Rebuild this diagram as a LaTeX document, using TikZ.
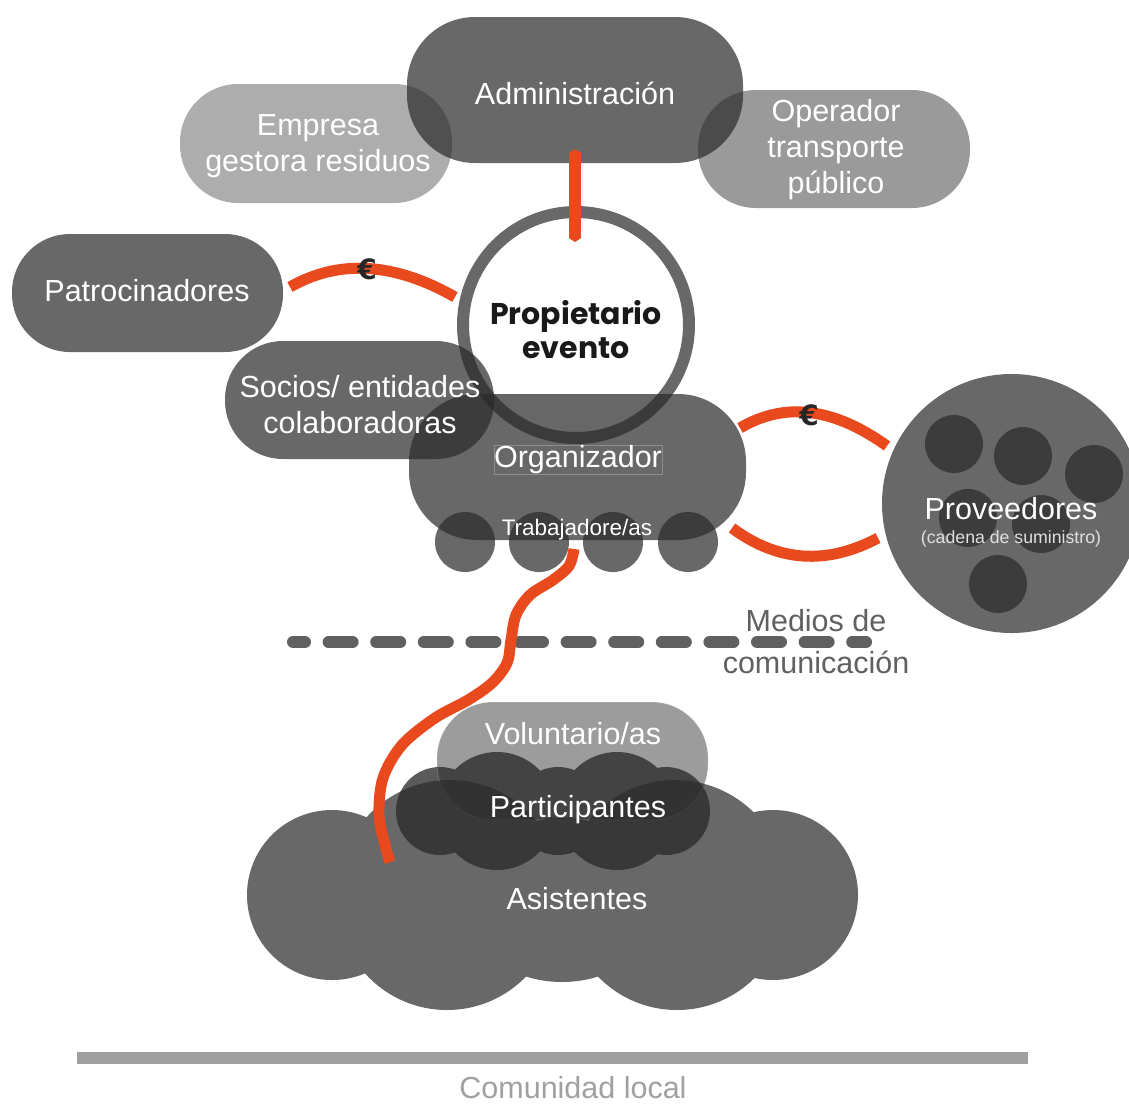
\documentclass[tikz,border=0pt]{standalone}
\usepackage{fontspec}
\setmainfont{Liberation Sans}
\newfontfamily\popfont{Poppins}
\newfontfamily\eurofont{DejaVu Sans}
\usetikzlibrary{arrows.meta}
\definecolor{ink}{RGB}{42,42,42}
\definecolor{ringgray}{RGB}{104,104,104}
\definecolor{redc}{RGB}{232,73,29}
\definecolor{dashgray}{RGB}{96,96,96}
\definecolor{commgray}{RGB}{160,160,160}
\newcommand\mainfs{\fontsize{30.5}{36}\selectfont}
\begin{document}
\begin{tikzpicture}[x=1pt,y=-1pt,
  blob/.style={rectangle, rounded corners=#1, fill=ink, inner sep=0pt},
  dot/.style={circle, fill=ink, inner sep=0pt, minimum size=#1},
  op104/.style={fill opacity=0.709},
  lbl/.style={text=white, font=\mainfs, align=center, inner sep=0pt},
  redline/.style={draw=redc, line width=11pt},
  euro/.style={font=\eurofont\bfseries\fontsize{28}{28}\selectfont, text=black!85, inner sep=0pt},
]
\clip (0,0) rectangle (1129,1104);
% top row
\node[blob=58pt, fill opacity=0.385, minimum width=272pt, minimum height=119pt] (empresa) at (316,143.5) {};
\node[blob=58pt, fill opacity=0.474, minimum width=272pt, minimum height=118pt] (operador) at (834,149) {};
\node[blob=68pt, op104, minimum width=336pt, minimum height=146pt] (admin) at (575,90) {};
% left
\node[blob=58pt, op104, minimum width=271pt, minimum height=118pt] (patro) at (147.5,293) {};
% owner ring
\node[circle, minimum size=226pt, fill=white, draw=ringgray, line width=12pt, inner sep=0pt] (prop) at (576,325) {};
\node[blob=58pt, op104, minimum width=269pt, minimum height=118pt] (socios) at (359.5,400) {};
\node[blob=68pt, op104, minimum width=337pt, minimum height=146pt] (org) at (577.5,467) {};
% workers
\node[dot=60pt, op104] (t1) at (465,542) {};
\node[dot=60pt, op104] (t2) at (539,542) {};
\node[dot=60pt, op104] (t3) at (613,542) {};
\node[dot=60pt, op104] (t4) at (688,542) {};
% suppliers
\node[dot=259pt, op104] (prov) at (1011.5,503.5) {};
\node[dot=58pt, op104] (s1) at (954,444) {};
\node[dot=58pt, op104] (s2) at (1023,456) {};
\node[dot=58pt, op104] (s3) at (1094,474) {};
\node[dot=58pt, op104] (s4) at (968,518) {};
\node[dot=58pt, op104] (s5) at (1041,524) {};
\node[dot=58pt, op104] (s6) at (998,584) {};
% media dashed line
\coordinate (d1) at (293,642);
\coordinate (d2) at (866,642);
\draw[dashgray, line width=12pt, line cap=round, dash pattern=on 24pt off 23.6pt, dash phase=12pt] (d1) -- (d2);
% participants cloud
\fill[ink, fill opacity=0.775] (440,811) circle[radius=44pt] (558,811) circle[radius=44pt] (666,811) circle[radius=44pt] (497,811) circle[radius=59pt] (617,811) circle[radius=59pt];
% volunteers
\node[blob=56pt, fill opacity=0.465, draw=white, draw opacity=0.25, line width=0.6pt, minimum width=271pt, minimum height=118pt] (vol) at (572.5,761) {};
% attendees cloud
\fill[ink, fill opacity=0.709] (332,895) circle[radius=85pt] (773,895) circle[radius=85pt] (450,892) circle[radius=112pt] (675,892) circle[radius=112pt] (447,900) circle[radius=110pt] (677,900) circle[radius=110pt] (562,900) ellipse[x radius=100pt, y radius=82pt];
% red connectors
\coordinate (rvtop) at (575,149);
\coordinate (rvbot) at (575,242);
\draw[redline, line width=12pt, {Triangle[length=4pt,width=12pt]}-{Triangle[length=4pt,width=12pt]}] (rvtop) -- (rvbot);
\coordinate (pa) at (290,287);
\coordinate (pb) at (455,297);
\draw[redline] (pa) .. controls (339,259) and (394,262.3) .. (pb);
\coordinate (o1) at (740,428);
\coordinate (o2) at (887,446);
\draw[redline] (o1) .. controls (784.3,401.7) and (833.3,407.3) .. (o2);
\coordinate (o3) at (732,528);
\coordinate (o4) at (878,538);
\draw[redline] (o3) .. controls (778,562) and (826.7,565.3) .. (o4);
\coordinate (wtop) at (574,549);
\coordinate (wbot) at (390,862);
\draw[redline] plot[smooth, tension=0.55] coordinates {(wtop) (569,566) (553,580) (530,595) (516,615) (511,640) (507,663) (492,683) (468,700) (435,718) (402,745) (383,778) (379,815) (385,845) (wbot)};
\node[euro] (eur1) at (367,269) {€};
\node[euro] (eur2) at (809,415) {€};
% labels
\node[lbl] (admin-t) at (575,93) {Administración};
\node[lbl] (empresa-t) at (318,146) {Empresa\\gestora residuos};
\node[lbl] (operador-t) at (836,150) {Operador\\transporte\\público};
\node[lbl] (patro-t) at (147,291) {Patrocinadores};
\node[font=\popfont\bfseries\fontsize{30}{34}\selectfont, text=black!90, align=center, inner sep=0pt] (prop-t) at (576,330) {Propietario\\evento};
\node[lbl] (socios-t) at (360,405) {Socios/ entidades\\colaboradoras};
\node[lbl, draw=white, draw opacity=0.25, line width=0.6pt] (org-t) at (578,460) {Organizador};
\node[lbl, font=\fontsize{22.5}{26}\selectfont] (trab-t) at (577,530) {Trabajadore/as};
\node[lbl] (prov-t) at (1011,509) {Proveedores};
\node[lbl, font=\fontsize{17.7}{20}\selectfont, text=white!88!black] (cad-t) at (1011,539) {(cadena de suministro)};
\node[lbl, text=dashgray] (medios-t) at (816,621) {Medios de};
\node[lbl, text=dashgray] (com-t) at (816,662) {comunicación};
\node[lbl] (vol-t) at (573,734) {Voluntario/as};
\node[lbl] (part-t) at (578,810) {Participantes};
\node[lbl] (asis-t) at (577,899) {Asistentes};
% community
\fill[commgray] (77,1052) rectangle (1028,1064);
\node[lbl, text=commgray] (comm-t) at (573,1088) {Comunidad local};
\end{tikzpicture}
\end{document}
